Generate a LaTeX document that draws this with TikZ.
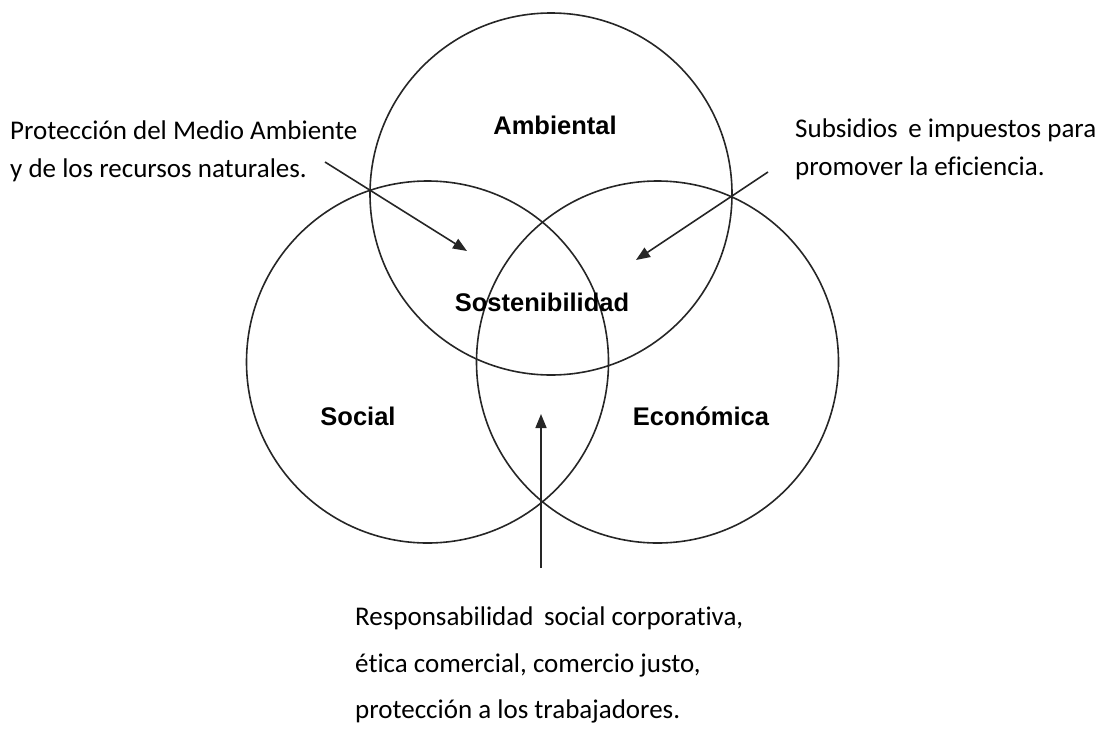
\documentclass[tikz,border=0pt]{standalone}
\usepackage{fontspec}
\setmainfont{Carlito}[Ligatures=NoCommon]
\newfontfamily\labelfont{Liberation Sans}
\usetikzlibrary{arrows.meta}
\begin{document}
\begin{tikzpicture}[x=1pt,y=-1pt,
  ring/.style={circle,draw=black!85,line width=1.6pt,minimum size=362pt,inner sep=0pt},
  dimtitle/.style={font=\labelfont\bfseries\fontsize{25.5}{30}\selectfont,inner sep=0pt},
  note/.style={font=\fontsize{27}{37.5}\selectfont,align=left,inner sep=0pt,anchor=north west},
  pointer/.style={draw=black!85,line width=1.6pt,-{Triangle[length=14pt,width=11pt]}}]
  \useasboundingbox (0,0) rectangle (1097,728);

  % three pillars
  \node[ring] (amb) at (551,194) {};
  \node[ring] (soc) at (427.5,362) {};
  \node[ring] (eco) at (657.5,362) {};

  % pillar names
  \node[dimtitle] (tamb) at (555,125) {Ambiental};
  \node[dimtitle] (tsos) at (542,302) {Sostenibilidad};
  \node[dimtitle] (tsoc) at (358,416) {Social};
  \node[dimtitle] (teco) at (701,416) {Económica};

  % explanatory notes
  \node[note] (nleft) at (10,121) {Protección del Medio Ambiente\\y de los recursos naturales.};
  \node[note] (nright) at (795,119) {Subsidios\, e impuestos para\\promover la eficiencia.};
  \node[note,font=\fontsize{27}{46.5}\selectfont] (nbottom) at (355,607)
    {Responsabilidad\, social corporativa,\\ética comercial, comercio justo,\\protección a los trabajadores.};

  % arrow ends
  \coordinate (a1s) at (325,162);
  \coordinate (a1e) at (467,251);
  \coordinate (a2s) at (768,172);
  \coordinate (a2e) at (636,260);
  \coordinate (a3s) at (541,568);
  \coordinate (a3e) at (541,414);

  \draw[pointer] (a1s) -- (a1e);
  \draw[pointer] (a2s) -- (a2e);
  \draw[pointer] (a3s) -- (a3e);
\end{tikzpicture}
\end{document}
